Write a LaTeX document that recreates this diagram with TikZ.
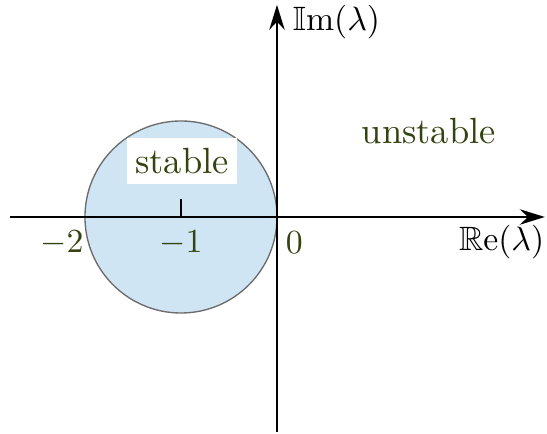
\documentclass[tikz,border=0pt]{standalone}
\usepackage{amsmath,amssymb}
\usepackage[dvipsnames]{xcolor}
\usetikzlibrary{arrows.meta}
\definecolor{labolive}{HTML}{334411}
\definecolor{diskblue}{HTML}{CFE5F3}
\tikzset{
  axisline/.style  = {-{Stealth[length=2.6mm,width=1.6mm]}, black, thick},
  numlab/.style    = {text=labolive, font=\normalsize},
  axislab/.style   = {font=\normalsize},
  regionlab/.style = {text=labolive, font=\fontsize{10.8}{13}\selectfont},
  stablebox/.style = {fill=white, inner xsep=2.5pt, inner ysep=3pt}
}
\begin{document}
\begin{tikzpicture}
  \useasboundingbox (-2.885,-2.26) rectangle (2.8125,2.26);
  % stability disk
  \coordinate (c) at (-1,0);
  \filldraw[fill=diskblue, draw=gray!85!black, thin] (c) circle[radius=1];
  % axes
  \coordinate (xl) at (-2.78,0);
  \coordinate (xr) at (2.79,0);
  \coordinate (yb) at (0,-2.24);
  \coordinate (yt) at (0,2.21);
  \draw[axisline] (xl) -- (xr);
  \draw[axisline] (yb) -- (yt);
  \draw[thick] (c) -- ++(0,0.19);
  % labels
  \node[numlab] (m2) at (-2.24,-0.27) {$-2$};
  \node[numlab] (m1) at (-1,-0.27)    {$-1$};
  \node[numlab] (z)  at (0.18,-0.27)  {$0$};
  \node[axislab] (re) at (2.34,-0.26) {$\mathbb{R}\mathrm{e}(\lambda)$};
  \node[axislab] (im) at (0.62,2.03)  {$\mathbb{I}\mathrm{m}(\lambda)$};
  \node[regionlab, stablebox] (st) at (-0.99,0.58) {stable};
  \node[regionlab] (un) at (1.58,0.90) {unstable};
\end{tikzpicture}
\end{document}
